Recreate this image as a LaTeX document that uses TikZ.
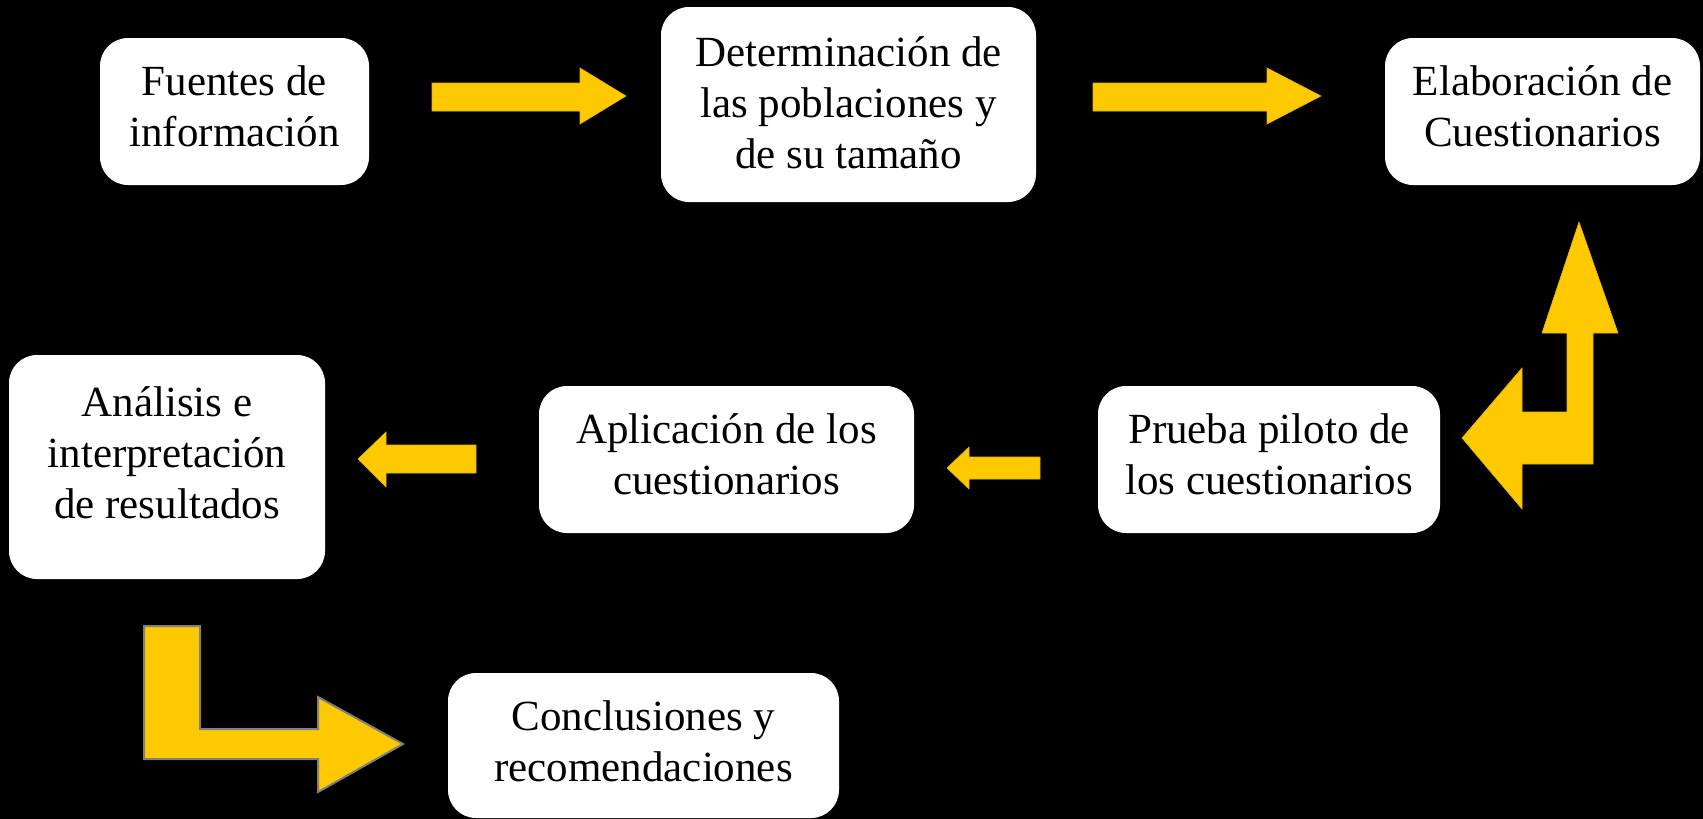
\documentclass[tikz,border=0pt]{standalone}
\usepackage{fontspec}
\setmainfont{Liberation Serif}
\usetikzlibrary{positioning}
\definecolor{amarillo}{RGB}{255,201,0}
\definecolor{borde}{RGB}{128,128,128}

\begin{document}
\begin{tikzpicture}[x=0.5pt,y=-0.5pt,
  caja/.style={fill=white,rounded corners=14pt,inner sep=0pt},
  texto/.style={align=center,inner sep=0pt,font=\fontsize{21.5}{25.5}\selectfont},
  flecha/.style={fill=amarillo,draw=amarillo!90!black,line width=0.3pt}]
  % fondo
  \fill[black] (0,0) rectangle (1703,819);
  \useasboundingbox (0,0) rectangle (1703,819);

  % cajas
  \node[caja,minimum width=134.5pt,minimum height=73.5pt,label={[texto,yshift=2.7pt]center:Fuentes de\\información}] (fuentes) at (234.5,111.5) {};
  \node[caja,minimum width=187.5pt,minimum height=97.5pt,label={[texto,yshift=1pt]center:Determinación de\\las poblaciones y\\de su tamaño}] (poblac) at (848.5,104.5) {};
  \node[caja,minimum width=157.5pt,minimum height=73.5pt,label={[texto,yshift=2.7pt]center:Elaboración de\\Cuestionarios}] (elabor) at (1542.5,111.5) {};
  \node[caja,minimum width=158pt,minimum height=112pt,label={[texto,yshift=7pt]center:Análisis e\\interpretación\\de resultados}] (analisis) at (167,467) {};
  \node[caja,minimum width=187.5pt,minimum height=73.5pt,label={[texto,yshift=2.7pt]center:Aplicación de los\\cuestionarios}] (aplicac) at (726.5,459.5) {};
  \node[caja,minimum width=171pt,minimum height=73.5pt,label={[texto,yshift=2.7pt]center:Prueba piloto de\\los cuestionarios}] (piloto) at (1269,459.5) {};
  \node[caja,minimum width=195.5pt,minimum height=72.5pt,label={[texto,yshift=1.9pt]center:Conclusiones y\\recomendaciones}] (conclus) at (643.5,745.5) {};

  % flechas
  \fill[flecha] (432,83) -- (580,83) -- (580,68) -- (626,96) -- (580,124) -- (580,111) -- (432,111) -- cycle;
  \fill[flecha] (1093,83) -- (1267,83) -- (1267,68) -- (1321,96) -- (1267,124) -- (1267,111) -- (1093,111) -- cycle;
  \fill[flecha] (476,445) -- (386,445) -- (386,432) -- (358,459) -- (386,487) -- (386,473) -- (476,473) -- cycle;
  \fill[flecha] (1040,457) -- (969,457) -- (969,447) -- (947,468) -- (969,489) -- (969,479) -- (1040,479) -- cycle;
  \fill[flecha] (1579,222) -- (1618,333) -- (1593,333) -- (1593,464) -- (1522,464) -- (1522,509) -- (1462,438)
    -- (1522,368) -- (1522,412) -- (1567,412) -- (1567,333) -- (1542,333) -- cycle;
  \filldraw[fill=amarillo,draw=borde,line width=1pt] (144,626) -- (200,626) -- (200,729) -- (318,729) -- (318,697)
    -- (403,744) -- (318,792) -- (318,759) -- (144,759) -- cycle;
\end{tikzpicture}
\end{document}
